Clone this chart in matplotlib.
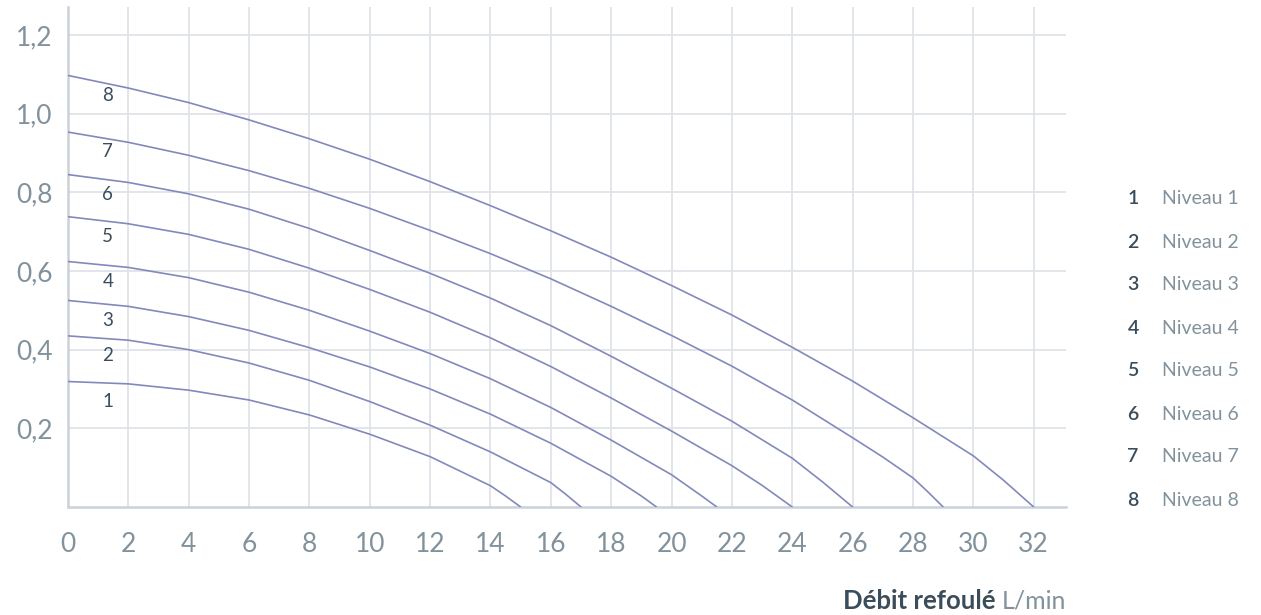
import matplotlib
matplotlib.use("Agg")
import matplotlib.pyplot as plt

# ---- data ----
flow_1 = [0, 2, 4, 6, 8, 10, 12, 14, 14.5, 15]
head_1 = [0.319, 0.313, 0.297, 0.272, 0.234, 0.185, 0.128, 0.054, 0.028, 0.0]
flow_2 = [0, 2, 4, 6, 8, 10, 12, 14, 16, 16.5, 17]
head_2 = [0.435, 0.424, 0.400, 0.366, 0.322, 0.268, 0.208, 0.140, 0.062, 0.032, 0.0]
flow_3 = [0, 2, 4, 6, 8, 10, 12, 14, 16, 18, 19, 19.5]
head_3 = [0.525, 0.510, 0.484, 0.449, 0.405, 0.356, 0.300, 0.236, 0.162, 0.078, 0.028, 0.0]
flow_4 = [0, 2, 4, 6, 8, 10, 12, 14, 16, 18, 20, 21, 21.5]
head_4 = [0.624, 0.609, 0.583, 0.546, 0.500, 0.447, 0.390, 0.326, 0.253, 0.170, 0.082, 0.028, 0.0]
flow_5 = [0, 2, 4, 6, 8, 10, 12, 14, 16, 18, 20, 22, 23, 24]
head_5 = [0.738, 0.720, 0.693, 0.655, 0.607, 0.553, 0.495, 0.430, 0.357, 0.277, 0.193, 0.105, 0.055, 0.0]
flow_6 = [0, 2, 4, 6, 8, 10, 12, 14, 16, 18, 20, 22, 24, 25, 26]
head_6 = [0.845, 0.825, 0.796, 0.757, 0.708, 0.652, 0.594, 0.531, 0.461, 0.383, 0.302, 0.218, 0.124, 0.064, 0.0]
flow_7 = [0, 2, 4, 6, 8, 10, 12, 14, 16, 18, 20, 22, 24, 26, 27, 28, 28.5, 29]
head_7 = [0.953, 0.927, 0.894, 0.855, 0.810, 0.759, 0.703, 0.644, 0.580, 0.510, 0.436, 0.358, 0.272, 0.176, 0.127, 0.074, 0.038, 0.0]
flow_8 = [0, 2, 4, 6, 8, 10, 12, 14, 16, 18, 20, 22, 24, 26, 28, 30, 31, 32]
head_8 = [1.097, 1.065, 1.028, 0.984, 0.936, 0.884, 0.827, 0.766, 0.702, 0.635, 0.563, 0.488, 0.406, 0.320, 0.227, 0.130, 0.068, 0.0]

flows = [flow_1, flow_2, flow_3, flow_4, flow_5, flow_6, flow_7, flow_8]
heads = [head_1, head_2, head_3, head_4, head_5, head_6, head_7, head_8]
curve_ids = ["1", "2", "3", "4", "5", "6", "7", "8"]
legend_labels = ["Niveau 1", "Niveau 2", "Niveau 3", "Niveau 4",
                 "Niveau 5", "Niveau 6", "Niveau 7", "Niveau 8"]
x_ticks = list(range(0, 33, 2))
y_ticks = [0.2, 0.4, 0.6, 0.8, 1.0, 1.2]
y_tick_labels = ["0,2", "0,4", "0,6", "0,8", "1,0", "1,2"]
x_label_bold = "Débit refoulé"
x_label_unit = "L/min"

# ---- style ----
FONT = ["Lato", "DejaVu Sans"]
plt.rcParams["font.family"] = FONT
LINE = "#8389bb"
TICK = "#82929c"
DARK = "#3b4d5a"
GRID = "#dfe4e9"
SPINE = "#cad2d9"

W, H = 1261, 615
fig = plt.figure(figsize=(W / 100, H / 100), dpi=100)
ax = fig.add_axes([68 / W, (H - 507) / H, (1066 - 68) / W, (507 - 7) / H])

for fx, hy in zip(flows, heads):
    ax.plot(fx, hy, color=LINE, lw=1.2, solid_joinstyle="round",
            solid_capstyle="round", zorder=3)

for cid, hy in zip(curve_ids, heads):
    ax.text(1.32, hy[0] - 0.05, cid, color=DARK, fontsize=13.5,
            ha="center", va="center", zorder=4)

ax.set_xlim(0, 33.07)
ax.set_ylim(0, 1.271)
ax.set_xticks(x_ticks)
ax.set_xticklabels([str(t) for t in x_ticks])
ax.set_yticks(y_ticks)
ax.set_yticklabels(y_tick_labels)
ax.tick_params(length=0, labelsize=19, labelcolor=TICK)
ax.tick_params(axis="x", pad=18)
ax.tick_params(axis="y", pad=11)

ax.grid(True, color=GRID, lw=1.3, zorder=0)
ax.set_axisbelow(True)
for s in ["top", "right"]:
    ax.spines[s].set_visible(False)
for s in ["left", "bottom"]:
    ax.spines[s].set_color(SPINE)
    ax.spines[s].set_linewidth(1.8)

# legend (right side)
row0 = 199
step = 43
for i, (cid, lab) in enumerate(zip(curve_ids, legend_labels)):
    yy = 1 - (row0 + i * step) / H
    fig.text(1133 / W, yy, cid, color=DARK, fontsize=14, fontweight="semibold",
             ha="center", va="center")
    fig.text(1162 / W, yy, lab, color=TICK, fontsize=14,
             ha="left", va="center")

# x axis title, right aligned
t_unit = fig.text(1066 / W, 1 - 601 / H, x_label_unit, color=TICK, fontsize=18,
                  ha="right", va="center")
fig.canvas.draw()
bb = t_unit.get_window_extent(renderer=fig.canvas.get_renderer())
fig.text((bb.x0 - 6) / W, 1 - 601 / H, x_label_bold, color=DARK, fontsize=18.5,
         fontweight="bold", ha="right", va="center")

fig.savefig("out.png", dpi=100)
